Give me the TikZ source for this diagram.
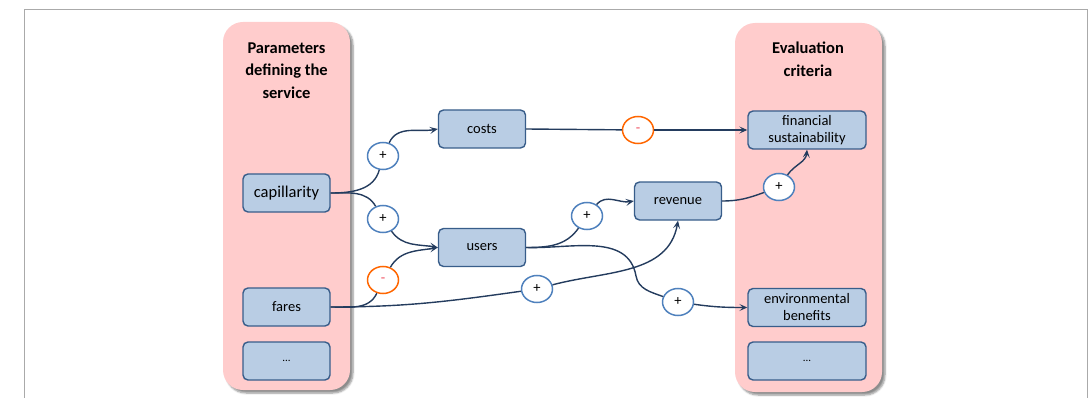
\documentclass[tikz,border=0pt]{standalone}
\usepackage{fontspec}
\setmainfont{Carlito}
\usetikzlibrary{arrows.meta,shadows.blur,shapes.geometric}
\definecolor{panelpink}{HTML}{FFCCCC}
\definecolor{boxfill}{HTML}{B9CDE4}
\definecolor{boxline}{HTML}{385D8A}
\definecolor{linknavy}{HTML}{243C5E}
\definecolor{signblue}{HTML}{4F81BD}
\definecolor{signorange}{HTML}{FF6600}
\definecolor{minusred}{HTML}{F05060}
\definecolor{framegray}{HTML}{AAAAAA}
\begin{document}
\begin{tikzpicture}[x=1pt,y=-1pt,
  panel/.style={fill=panelpink, rounded corners=20pt, inner sep=0pt,
    blur shadow={shadow xshift=3pt, shadow yshift=-3pt, shadow blur steps=6, shadow opacity=45}},
  paneltitle/.style={align=center, font=\fontsize{16.5}{22.5}\selectfont\bfseries},
  stepbox/.style={draw=boxline, fill=boxfill, line width=1.4pt, rounded corners=5pt,
    minimum height=38pt, inner sep=0pt, align=center,
    font=\fontsize{14.5}{17}\selectfont},
  parambox/.style={stepbox, minimum width=87pt},
  critbox/.style={stepbox, minimum width=118pt},
  sign/.style={ellipse, fill=white, line width=1.5pt, minimum width=31pt,
    minimum height=27pt, inner sep=0pt, font=\fontsize{14.5}{14.5}\selectfont},
  plus/.style={sign, draw=signblue},
  minus/.style={sign, draw=signorange, text=minusred},
  link/.style={draw=linknavy, line width=1.4pt},
  arrowlink/.style={link, -{Stealth[length=8pt,width=7pt,inset=3.5pt]}}
]
\useasboundingbox (0,0) rectangle (1091,398);

% outer frame
\draw[framegray, line width=1pt] (24,400) -- (24,10) -- (1087,10) -- (1087,400);

% side panels
\node[panel, minimum width=127pt, minimum height=368pt] (lpanel) at (286.5,206) {};
\node[panel, minimum width=147pt, minimum height=369pt] (rpanel) at (808.5,207.5) {};
\node[paneltitle] (ltitle) at (286.5,70.5) {Parameters\\defining the\\service};
\node[paneltitle] (rtitle) at (808,59.5) {Evaluation\\criteria};

% parameter boxes
\node[parambox, font=\fontsize{16.5}{19}\selectfont] (cap) at (286.5,193) {capillarity};
\node[parambox] (fares) at (286.5,307) {fares};
\node[parambox, font=\fontsize{11}{11}\selectfont] (ldots) at (286.5,361) {\raisebox{-2pt}{...}};

% intermediate boxes
\node[parambox] (costs) at (482,129) {costs};
\node[parambox] (users) at (482,247.5) {users};
\node[parambox] (revenue) at (678,201) {revenue};

% criteria boxes
\node[critbox] (fin) at (807,130) {financial\\sustainability};
\node[critbox] (env) at (807,307.5) {environmental\\benefits};
\node[critbox, font=\fontsize{11}{11}\selectfont] (rdots) at (807,361) {\raisebox{-2pt}{...}};

% signs
\node[plus] (c1) at (383,156) {+};
\node[plus] (c2) at (383,219) {+};
\node[minus] (c3) at (383,280) {-};
\node[plus] (c4) at (537,289) {+};
\node[plus] (c5) at (587,216) {+};
\node[minus] (c6) at (638,130) {-};
\node[plus] (c7) at (779,187) {+};
\node[plus] (c8) at (678,302) {+};
\coordinate (bend) at (636,276);

% influences
\draw[link] (cap.east) to[out=0,in=-105] (c1);
\draw[arrowlink] (c1) to[out=65,in=190] (costs.west);

\draw[link] (cap.east) to[out=0,in=120] (c2);
\draw[arrowlink] (c2) to[out=-55,in=170] (users.west);

\draw[link] (fares.east) to[out=0,in=-115] (c3);
\draw[arrowlink] (c3) to[out=60,in=190] (users.west);

\draw[link] (fares.east) to[out=0,in=188] (c4);
\draw[arrowlink] (c4) to[out=15,in=-100] (revenue.south);

\draw[link] (users.east) to[out=0,in=-125] (c5);
\draw[arrowlink] (c5) to[out=50,in=190] (revenue.west);

\draw[link] (costs.east) -- (c6);
\draw[arrowlink] (c6) -- (fin.west);

\draw[link] (revenue.east) to[out=0,in=-160] (c7);
\draw[arrowlink] (c7) to[out=55,in=-95] (fin.south);

\draw[link] (users.east) to[out=-2,in=100] (bend) to[out=-80,in=160] (c8);
\draw[arrowlink] (c8) to[out=-8,in=180] (env.west);
\end{tikzpicture}
\end{document}
